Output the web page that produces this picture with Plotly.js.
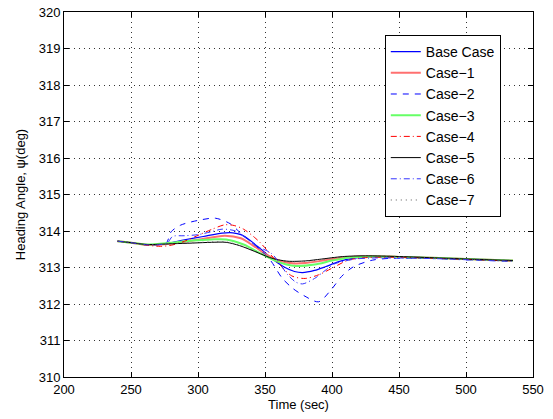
<!DOCTYPE html>
<html>
<head>
<meta charset="utf-8">
<script src="https://cdn.plot.ly/plotly-3.0.1.min.js"></script>
<style>html,body{margin:0;padding:0;background:#fff;}#chart{width:553px;height:419px;}</style>
</head>
<body>
<div id="chart"></div>
<script>
// Time (sec) and heading angle (deg) for each case
var baseT = [240,250,262,275,290,304,318,326,332,339,347,356,365,372,378,387,395,405,415,430,450,480,510,535];
var baseV = [313.72,313.68,313.62,313.65,313.76,313.85,313.94,313.95,313.9,313.74,313.5,313.22,313.0,312.89,312.86,312.92,313.02,313.16,313.25,313.3,313.29,313.26,313.22,313.19];

var case1T = [240,250,262,280,300,320,332,342,352,362,372,380,395,410,430,450,480,510,535];
var case1V = [313.72,313.68,313.62,313.66,313.76,313.87,313.8,313.58,313.33,313.17,313.11,313.12,313.2,313.28,313.31,313.29,313.26,313.22,313.19];

var case2T = [240,250,262,272,276.5,280,287,300,313,324,331,340,346,354,363,371,379,390,400,407,416,430,443,470,500,535];
var case2V = [313.72,313.68,313.62,313.63,313.68,313.98,314.16,314.29,314.35,314.2,313.97,313.69,313.5,313.2,312.7,312.42,312.23,312.06,312.42,312.75,313.02,313.2,313.25,313.25,313.21,313.17];

var case3T = [240,250,262,280,296,310,321,334,347,358,366,373,387,400,412,430,450,480,510,535];
var case3V = [313.72,313.68,313.63,313.68,313.74,313.77,313.77,313.63,313.38,313.18,313.08,313.04,313.08,313.19,313.27,313.3,313.29,313.26,313.22,313.19];

var case4T = [240,250,262,272,280,290,300,310,320,327,334,342,347,358,370,380,390,400,412,425,450,480,510,535];
var case4V = [313.72,313.68,313.61,313.58,313.61,313.72,313.88,314.04,314.17,314.15,314.05,313.83,313.66,313.2,312.77,312.7,312.8,312.98,313.2,313.27,313.28,313.25,313.21,313.18];

var case5T = [240,250,262,280,296,310,321,331,345,353,360,368,380,392,408,425,450,480,510,535];
var case5V = [313.72,313.68,313.63,313.65,313.67,313.69,313.69,313.6,313.4,313.28,313.21,313.17,313.18,313.23,313.3,313.32,313.3,313.26,313.22,313.19];

var case6T = [240,250,262,272,277,281,290,300,310,318,328,335,343,355,367,373,378,387,396,402,417,430,450,480,510,535];
var case6V = [313.72,313.68,313.62,313.63,313.66,313.85,313.87,313.9,313.98,314.05,314.0,313.83,313.6,313.38,312.8,312.6,312.55,312.7,312.95,313.1,313.23,313.26,313.26,313.24,313.2,313.17];

var case7T = [240,250,262,280,296,310,321,331,345,353,360,368,380,392,408,425,450,480,510,535];
var case7V = [313.72,313.68,313.63,313.65,313.68,313.7,313.7,313.61,313.41,313.28,313.2,313.16,313.17,313.22,313.29,313.32,313.3,313.26,313.22,313.19];

var xTicks = [200,250,300,350,400,450,500,550];
var yTicks = [310,311,312,313,314,315,316,317,318,319,320];

function tr(name, x, y, color, width, dash) {
  return {x: x, y: y, name: name, type: 'scatter', mode: 'lines',
    line: {color: color, width: width, dash: dash, shape: 'spline', smoothing: 0.8}};
}

var data = [
  tr('Base Case', baseT, baseV, '#0000ff', 1.2, 'solid'),
  tr('Case\u22121', case1T, case1V, '#ff7070', 2, 'solid'),
  tr('Case\u22122', case2T, case2V, '#0000ff', 1, '6px,6px'),
  tr('Case\u22123', case3T, case3V, '#66ff66', 2, 'solid'),
  tr('Case\u22124', case4T, case4V, '#ff0000', 1, '6px,3px,1px,3px'),
  tr('Case\u22125', case5T, case5V, '#000000', 1, 'solid'),
  tr('Case\u22126', case6T, case6V, '#3333ff', 1, '6px,3px,1px,3px'),
  tr('Case\u22127', case7T, case7V, '#555555', 1, '1px,4px')
];

var fontFam = 'Liberation Sans, Arial, sans-serif';
var axisCommon = {
  showline: true, linecolor: '#000', linewidth: 1, mirror: 'ticks',
  ticks: 'inside', ticklen: 5, tickcolor: '#000', tickwidth: 1,
  showgrid: true, gridcolor: '#333', griddash: '1px,4px', gridwidth: 1,
  zeroline: false, tickfont: {family: fontFam, size: 13, color: '#000'}
};

var layout = {
  width: 553, height: 419,
  margin: {l: 64, r: 20, t: 12, b: 42},
  paper_bgcolor: '#fff', plot_bgcolor: '#fff',
  showlegend: true,
  font: {family: fontFam, color: '#000'},
  xaxis: Object.assign({}, axisCommon, {
    range: [200, 550], tickvals: xTicks, ticktext: xTicks.map(String),
    title: {text: 'Time (sec)', font: {family: fontFam, size: 13, color: '#000'}, standoff: 4}
  }),
  yaxis: Object.assign({}, axisCommon, {
    range: [310, 320], tickvals: yTicks, ticktext: yTicks.map(String),
    title: {text: 'Heading Angle, \u03c8(deg)', font: {family: fontFam, size: 13, color: '#000'}, standoff: 10}
  }),
  legend: {
    x: 0.684, y: 0.937, xanchor: 'left', yanchor: 'top',
    bgcolor: '#fff', bordercolor: '#000', borderwidth: 1,
    font: {family: fontFam, size: 14, color: '#000'}
  }
};

Plotly.newPlot('chart', data, layout, {displayModeBar: false, staticPlot: true});
</script>
</body>
</html>
